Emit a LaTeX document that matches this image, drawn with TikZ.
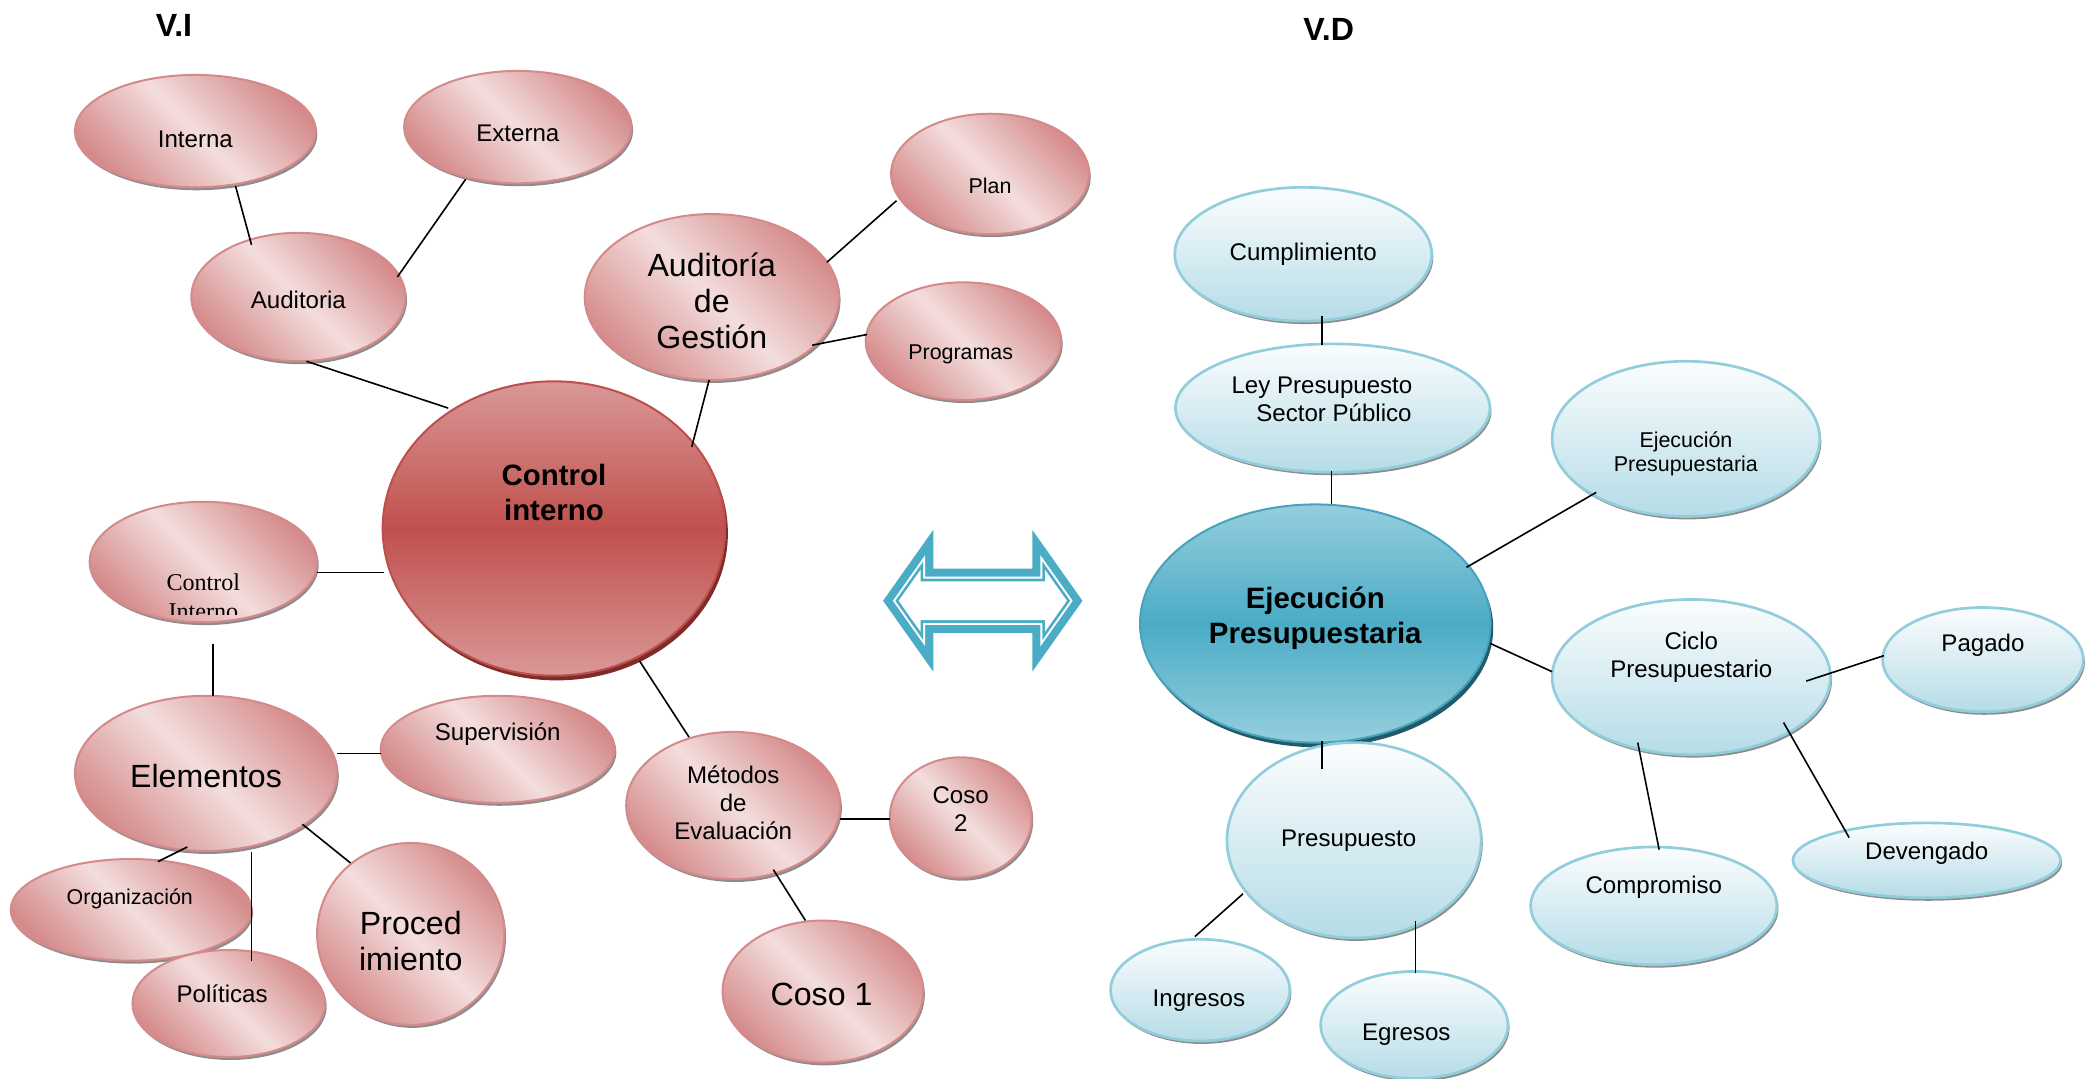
\documentclass[tikz,border=0pt]{standalone}
\usepackage{fontspec}
\setmainfont{Liberation Sans}
\newfontfamily\serifface{Liberation Serif}
\usetikzlibrary{shapes.geometric,shadows,calc}

\definecolor{pinkdark}{HTML}{D58B8B}
\definecolor{pinklight}{HTML}{F3DEDD}
\definecolor{pinkline}{HTML}{D48A8B}
\definecolor{redtop}{HTML}{D99897}
\definecolor{redmid}{HTML}{C0504D}
\definecolor{redline}{HTML}{BE4E4C}
\definecolor{redshadow}{HTML}{7E2C2A}
\definecolor{bluetop}{HTML}{FBFDFE}
\definecolor{bluebot}{HTML}{B5DCE7}
\definecolor{blueline}{HTML}{92CDDC}
\definecolor{teallight}{HTML}{95CEDD}
\definecolor{tealmid}{HTML}{4BACC6}
\definecolor{tealline}{HTML}{45A3BC}
\definecolor{tealshadow}{HTML}{215A68}
\definecolor{arrowcyan}{HTML}{4BACC6}

\tikzset{
  sz/.style 2 args={minimum width=#1pt, minimum height=#2pt},
  bubble/.style={ellipse, inner sep=0pt, line width=1.5pt},
  softshadow/.style={drop shadow={shadow xshift=1.2pt, shadow yshift=-2.2pt, fill=black!60, opacity=.75}},
  pinkbub/.style={bubble, draw=pinkline, top color=pinkdark, bottom color=pinkdark,
    middle color=pinklight, shading angle=-45, softshadow},
  bluebub/.style={bubble, draw=blueline, line width=2pt, top color=bluetop,
    bottom color=bluebot, softshadow},
  redhub/.style={bubble, draw=redline, top color=redtop, bottom color=redtop,
    middle color=redmid, drop shadow={shadow xshift=2pt, shadow yshift=-3.5pt, fill=redshadow, opacity=1}},
  tealhub/.style={bubble, draw=tealline, top color=teallight, bottom color=teallight,
    middle color=tealmid, drop shadow={shadow xshift=2pt, shadow yshift=-3.5pt, fill=tealshadow, opacity=1}},
  lbl/.style={inner sep=0pt, align=center, font=\fontsize{18}{21}\selectfont},
  lblsmall/.style={lbl, font=\fontsize{16}{18}\selectfont},
  lblbig/.style={lbl, font=\fontsize{24}{27}\selectfont},
  lblhub/.style={lbl, font=\bfseries\fontsize{22}{26}\selectfont},
  heading/.style={inner sep=0pt, font=\bfseries\fontsize{24}{28}\selectfont},
  link/.style={line width=1.2pt, black},
}

\begin{document}
\begin{tikzpicture}[x=1pt, y=-1pt]
\useasboundingbox (0,0) rectangle (1568,806);

% ---------------- headings ----------------
\node[heading] (vi) at (130,19) {V.I};
\node[heading] (vd) at (993,22) {V.D};

% ---------------- independent variable (red) ----------------
\node[pinkbub, sz={180}{84}] (interna) at (146,98) {};
\node[pinkbub, sz={170}{84}] (externa) at (387,95) {};
\node[pinkbub, sz={160}{96}] (auditoria) at (223,222) {};
\node[pinkbub, sz={190}{124}] (adg) at (532,222) {};
\node[pinkbub, sz={148}{90}] (plan) at (740,130) {};
\node[pinkbub, sz={146}{88}] (programas) at (720,255) {};
\node[redhub, sz={256}{220}] (ci) at (414,395) {};
\node[pinkbub, sz={170}{90}] (cis) at (152,420) {};
\node[pinkbub, sz={196}{116}] (elementos) at (154,578) {};
\node[pinkbub, sz={175}{80}] (supervision) at (372,560) {};
\node[pinkbub, sz={180}{76}] (organizacion) at (98,680) {};
\node[pinkbub, sz={144}{80}] (politicas) at (171,750) {};
\node[pinkbub, sz={140}{136}] (proced) at (307,698) {};
\node[pinkbub, sz={160}{110}] (metodos) at (548,602) {};
\node[pinkbub, sz={106}{90}] (coso2) at (718,611) {};
\node[pinkbub, sz={150}{106}] (coso1) at (615,741) {};

\node[lbl] (interna-t) at (146,104) {Interna};
\node[lbl] (externa-t) at (387,100) {Externa};
\node[lbl] (auditoria-t) at (223,224) {Auditoria};
\node[lblbig] (adg-t) at (532,225) {Auditoría\\de\\Gestión};
\node[lblsmall] (plan-t) at (740,139) {Plan};
\node[lblsmall] (programas-t) at (718,265) {Programas};
\node[lblhub] (ci-t) at (414,368) {Control\\interno};
\begin{scope}
  \clip (60,400) rectangle (245,459.5);
  \node[lbl, font=\serifface\fontsize{18}{21}\selectfont] (cis-t) at (152,446) {Control\\Interno};
\end{scope}
\node[lblbig] (elementos-t) at (154,580) {Elementos};
\node[lbl] (supervision-t) at (372,549) {Supervisión};
\node[lblsmall] (organizacion-t) at (97,672) {Organización};
\node[lbl] (politicas-t) at (166,743) {Políticas};
\node[lblbig] (proced-t) at (307,703) {Proced\\imiento};
\node[lbl] (metodos-t) at (548,600) {Métodos\\de\\Evaluación};
\node[lbl] (coso2-t) at (718,605) {Coso\\2};
\node[lblbig] (coso1-t) at (614,743) {Coso 1};

% connectors, left
\draw[link] ($(interna)+(30,41)$) -- ($(auditoria)+(-35,-39)$);
\draw[link] ($(externa)+(-39,39)$) -- ($(auditoria)+(74,-15)$);
\draw[link] ($(auditoria)+(6,48)$) -- ($(ci)+(-79,-90)$);
\draw[link] ($(adg)+(-2,62)$) -- ($(ci)+(103,-61)$);
\draw[link] ($(adg)+(86,-26)$) -- ($(plan)+(-70,20)$);
\draw[link] ($(adg)+(75,36)$) -- ($(programas)+(-72,-5)$);
\draw[link] ($(cis)+(85,8)$) -- ($(ci)+(-127,33)$);
\draw[link] ($(cis)+(7,61)$) -- ($(elementos)+(5,-58)$);
\draw[link] ($(elementos)+(98,-15)$) -- ($(supervision)+(-87,3)$);
\draw[link] ($(elementos)+(-14,55)$) -- ($(organizacion)+(20,-36)$);
\draw[link] ($(elementos)+(34,59)$) -- ($(politicas)+(17,-32)$);
\draw[link] ($(elementos)+(72,38)$) -- ($(proced)+(-45,-53)$);
\draw[link] ($(ci)+(64,99)$) -- ($(metodos)+(-33,-51)$);
\draw[link] ($(metodos)+(80,10)$) -- ($(coso2)+(-53,1)$);
\draw[link] ($(metodos)+(30,48)$) -- ($(coso1)+(-13,-53)$);

% ---------------- double arrow between the two variables ----------------
\coordinate (bridge) at (734.5,449);
\begin{scope}[shift={(bridge)}]
  \foreach \d/\col in {0/arrowcyan, 6/white, 7.5/arrowcyan, 9.5/white}
    \fill[\col] ({-74.5+1.224*\d},0) -- ({-37-\d},{3.144*\d-53}) -- ({-37-\d},{-24+\d})
      -- ({37+\d},{-24+\d}) -- ({37+\d},{3.144*\d-53}) -- ({74.5-1.224*\d},0)
      -- ({37+\d},{53-3.144*\d}) -- ({37+\d},{24-\d}) -- ({-37-\d},{24-\d})
      -- ({-37-\d},{53-3.144*\d}) -- cycle;
\end{scope}

% ---------------- dependent variable (blue) ----------------
\node[bluebub, sz={192}{100}] (cumpl) at (974,190) {};
\node[bluebub, sz={235}{96}] (ley) at (996,305) {};
\node[bluebub, sz={200}{116}] (ejs) at (1260,328) {};
\node[tealhub, sz={262}{178}] (ejb) at (983,466) {};
\node[bluebub, sz={208}{116}] (ciclo) at (1264,506) {};
\node[bluebub, sz={150}{78}] (pagado) at (1482,493) {};
\node[bluebub, sz={184}{88}] (compromiso) at (1236,677) {};
\node[bluebub, sz={200}{56}] (devengado) at (1440,643) {};
\node[bluebub, sz={190}{146}] (presup) at (1012,628) {};
\node[bluebub, sz={134}{76}] (ingresos) at (897,740) {};
\node[bluebub, sz={140}{80}] (egresos) at (1057,766) {};

\node[lbl] (cumpl-t) at (974,190) {Cumplimiento};
\node[lbl] (ley-t) at (988,298.5) {Ley Presupuesto\\\hspace*{18pt}Sector Público};
\node[lblsmall] (ejs-t) at (1260,339) {Ejecución\\Presupuestaria};
\node[lblhub] (ejb-t) at (983,462) {Ejecución\\Presupuestaria};
\node[lbl] (ciclo-t) at (1264,491.5) {Ciclo\\Presupuestario};
\node[lbl] (pagado-t) at (1482,482) {Pagado};
\node[lbl] (compromiso-t) at (1236,663) {Compromiso};
\node[lbl] (devengado-t) at (1440,638) {Devengado};
\node[lbl] (presup-t) at (1008,628) {Presupuesto};
\node[lbl] (ingresos-t) at (896,748) {Ingresos};
\node[lbl] (egresos-t) at (1051,773) {Egresos};

% connectors, right
\draw[link] ($(cumpl)+(14,46)$) -- ($(ley)+(-8,-47)$);
\draw[link] ($(ley)+(-1,47)$) -- ($(ejb)+(12,-89)$);
\draw[link] ($(ejb)+(113,-42)$) -- ($(ejs)+(-67,40)$);
\draw[link] ($(ejb)+(131,15)$) -- ($(ciclo)+(-104,-4)$);
\draw[link] ($(ejb)+(5,88)$) -- ($(presup)+(-24,-53)$);
\draw[link] ($(ciclo)+(86,3)$) -- ($(pagado)+(-74,-3)$);
\draw[link] ($(ciclo)+(-40,49)$) -- ($(compromiso)+(4,-42)$);
\draw[link] ($(ciclo)+(69,34)$) -- ($(devengado)+(-58,-17)$);
\draw[link] ($(presup)+(-83,40)$) -- ($(ingresos)+(-4,-40)$);
\draw[link] ($(presup)+(46,60)$) -- ($(egresos)+(1,-39)$);
\end{tikzpicture}
\end{document}
